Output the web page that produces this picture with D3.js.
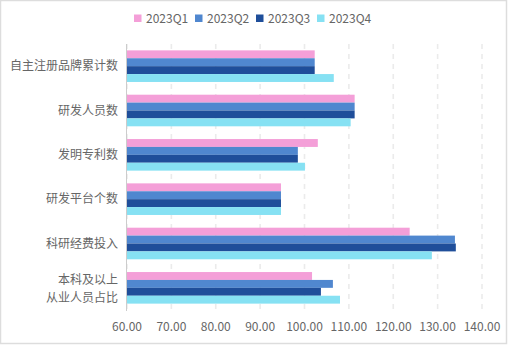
<!DOCTYPE html>
<html><head><meta charset="utf-8">
<script src="https://cdn.jsdelivr.net/npm/d3@7"></script>
<style>body{margin:0;background:#fff}svg{display:block}</style>
</head><body>
<svg id="c" width="508" height="345"></svg>
<script>
const categories = ["自主注册品牌累计数","研发人员数","发明专利数","研发平台个数","科研经费投入","本科及以上\n从业人员占比"];
const seriesNames = ["2023Q1","2023Q2","2023Q3","2023Q4"];
const q1 = [102.3, 111.3, 103.0, 94.7, 123.7, 101.7];
const q2 = [102.3, 111.3, 98.5, 94.7, 133.9, 106.4];
const q3 = [102.3, 111.3, 98.5, 94.7, 134.1, 103.7];
const q4 = [106.6, 110.4, 100.1, 94.7, 128.7, 108.0];
const xTicks = [60,70,80,90,100,110,120,130,140];
const colors = ["#F49FD8","#5087CF","#1F4E9A","#86E1F3"];
const series = [q1,q2,q3,q4];

const svg = d3.select("#c");
const font = "'Noto Sans CJK SC','Noto Sans',sans-serif";
const W=508,H=345;
svg.append("rect").attr("x",0.5).attr("y",0.5).attr("width",W-2).attr("height",H-2)
  .attr("fill","#fff").attr("stroke","#ddd").attr("stroke-width",1.5);

const x = d3.scaleLinear().domain([60,140]).range([127,482]);
const y = d3.scaleBand().domain(categories).range([44,310]).paddingInner(0).paddingOuter(0);
const barH = 7.9;
const groupH = barH*4;

// grid
svg.append("g").selectAll("line").data(xTicks).join("line")
  .attr("x1",d=>x(d)).attr("x2",d=>x(d)).attr("y1",44).attr("y2",310)
  .attr("stroke","#ebebeb").attr("stroke-width",1.6).attr("stroke-dasharray","5,5");

// bars
categories.forEach((c,i)=>{
  const top = y(c) + (y.bandwidth()-groupH)/2;
  series.forEach((s,j)=>{
    svg.append("rect").attr("x",x(60)).attr("y",top+j*barH)
      .attr("width",x(s[i])-x(60)).attr("height",barH).attr("fill",colors[j]);
  });
});

// y axis line
svg.append("line").attr("x1",126.5).attr("x2",126.5).attr("y1",44).attr("y2",311)
  .attr("stroke","#ccc").attr("stroke-width",1);

// y labels
categories.forEach(c=>{
  const lines = c.split("\n");
  const cy = y(c)+y.bandwidth()/2;
  lines.forEach((l,k)=>{
    svg.append("text").attr("text-anchor","end").attr("font-family",font)
      .attr("font-size",12).attr("fill","#666")
      .attr("x",118).attr("y",cy + (k-(lines.length-1)/2)*17.5 + 4.3 + (lines.length>1?1:0)).text(l);
  });
});

// x tick labels
svg.append("g").selectAll("text").data(xTicks).join("text")
  .attr("x",d=>x(d)).attr("y",330.5).attr("text-anchor","middle")
  .attr("font-family",font).attr("font-size",12).attr("fill","#666")
  .text(d=>d.toFixed(2));

// legend
const legX = [134,195,256,317];
seriesNames.forEach((n,j)=>{
  svg.append("rect").attr("x",legX[j]).attr("y",14.5).attr("width",7.5).attr("height",7.5).attr("fill",colors[j]);
  svg.append("text").attr("x",legX[j]+12).attr("y",22.5).attr("font-family",font)
    .attr("font-size",12).attr("fill","#666").text(n);
});
</script>
</body></html>
